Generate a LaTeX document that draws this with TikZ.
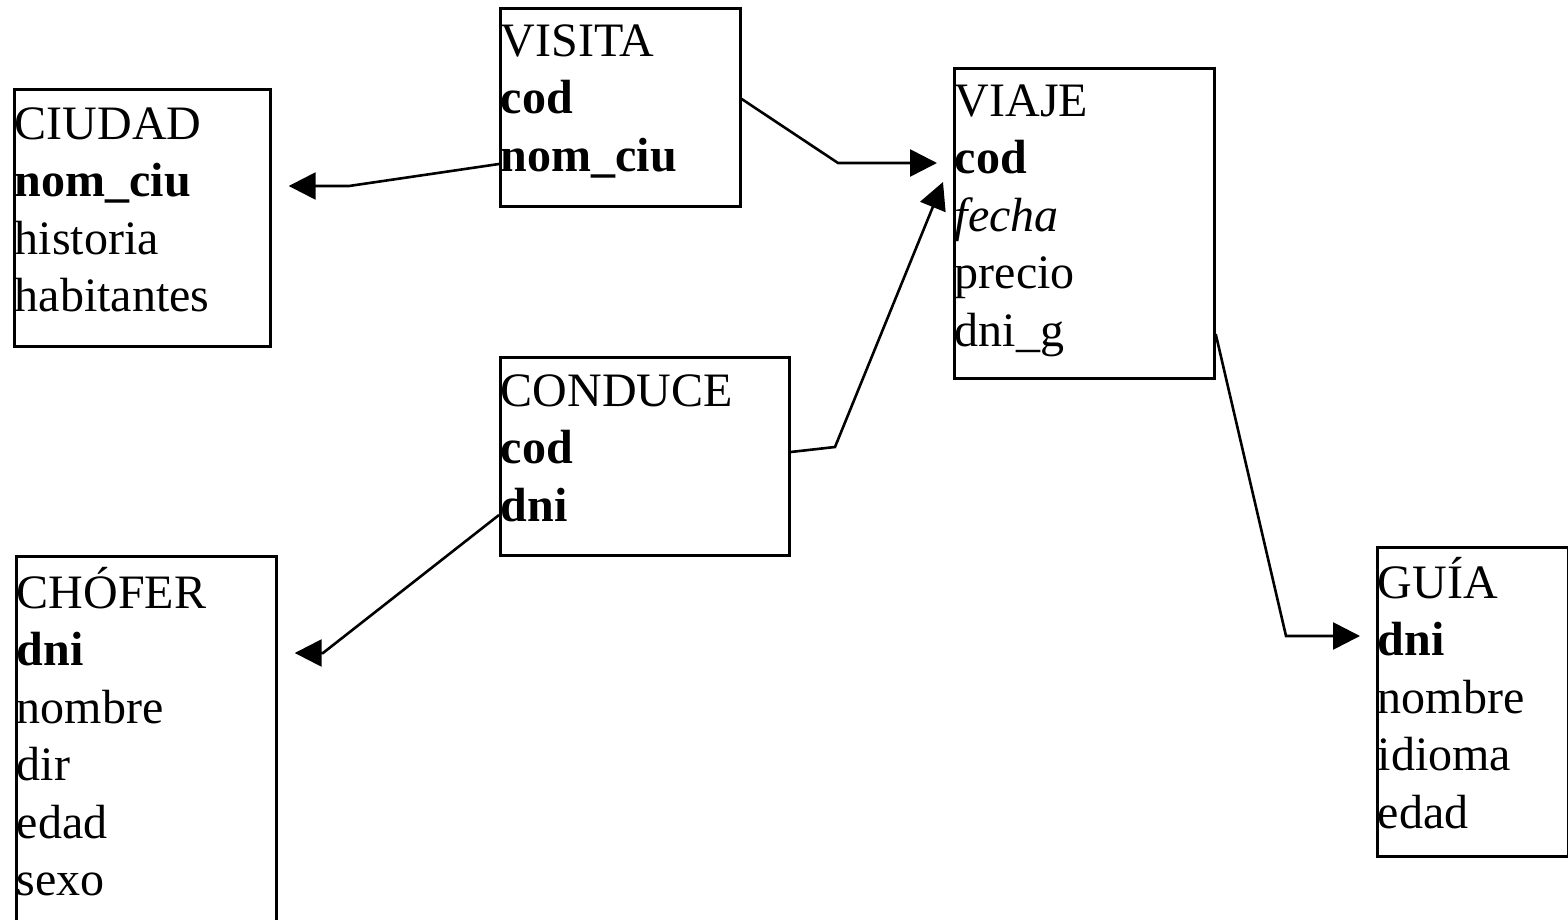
\documentclass[tikz,border=0pt]{standalone}
\usepackage{fontspec}
\setmainfont{Liberation Serif}
\usetikzlibrary{arrows.meta,calc}
\tikzset{
  entbox/.style={draw, line width=2.7pt, anchor=north west, inner sep=0pt},
  enttext/.style={anchor=north west, inner sep=0pt, align=left,
    font=\fontsize{48}{57.5}\selectfont},
  rel/.style={line width=2.6pt, -{Triangle[length=27pt,width=27pt]}},
}
\newcommand{\fs}{\rule{0pt}{45pt}}
\begin{document}
\begin{tikzpicture}[x=1pt,y=-1pt]
\useasboundingbox (0,0) rectangle (1568,920);
\clip (0,0) rectangle (1568,920);
% boxes
\node[entbox, minimum width=256pt, minimum height=257pt] (ciudad) at (13,88) {};
\node[entbox, minimum width=240pt, minimum height=198pt] (visita) at (499,7) {};
\node[entbox, minimum width=260pt, minimum height=310pt] (viaje) at (953,67) {};
\node[entbox, minimum width=289pt, minimum height=198pt] (conduce) at (499,356) {};
\node[entbox, minimum width=260pt, minimum height=400pt] (chofer) at (15,555) {};
\node[entbox, minimum width=191pt, minimum height=309pt] (guia) at (1376,546) {};
% texts
\node[enttext] (ciudadT) at ($(ciudad.north west)+(1.5,6)$) {\fs CIUDAD\\\textbf{nom\_ciu}\\historia\\habitantes};
\node[enttext] (visitaT) at ($(visita.north west)+(1.5,4)$) {\fs VISITA\\\textbf{cod}\\\textbf{nom\_ciu}};
\node[enttext] (viajeT) at ($(viaje.north west)+(1.5,4)$) {\fs VIAJE\\\textbf{cod}\\\textit{fecha}\\precio\\dni\_g};
\node[enttext] (conduceT) at ($(conduce.north west)+(1.5,5)$) {\fs CONDUCE\\\textbf{cod}\\\textbf{dni}};
\node[enttext] (choferT) at ($(chofer.north west)+(1.5,8)$) {\fs CHÓFER\\\textbf{dni}\\nombre\\dir\\edad\\sexo};
\node[enttext] (guiaT) at ($(guia.north west)+(1.5,7)$) {\fs GUÍA\\\textbf{dni}\\nombre\\idioma\\edad};
% connectors
\draw[rel] ($(visita.north west)+(0,157)$) -- (349,186) -- ($(ciudad.north east)+(17,98)$);
\draw[rel] ($(visita.north east)+(0,92)$) -- (838,163) -- ($(viaje.north west)+(-16,96)$);
\draw[rel] ($(conduce.north east)+(0,96)$) -- (835,447) -- ($(viaje.north west)+(-10,115)$);
\draw[rel] ($(conduce.north west)+(0,159)$) -- (323,653) -- ($(chofer.north east)+(17,98)$);
\draw[rel] ($(viaje.north east)+(0,267)$) -- (1286,636) -- ($(guia.north west)+(-16,90)$);
\end{tikzpicture}
\end{document}
